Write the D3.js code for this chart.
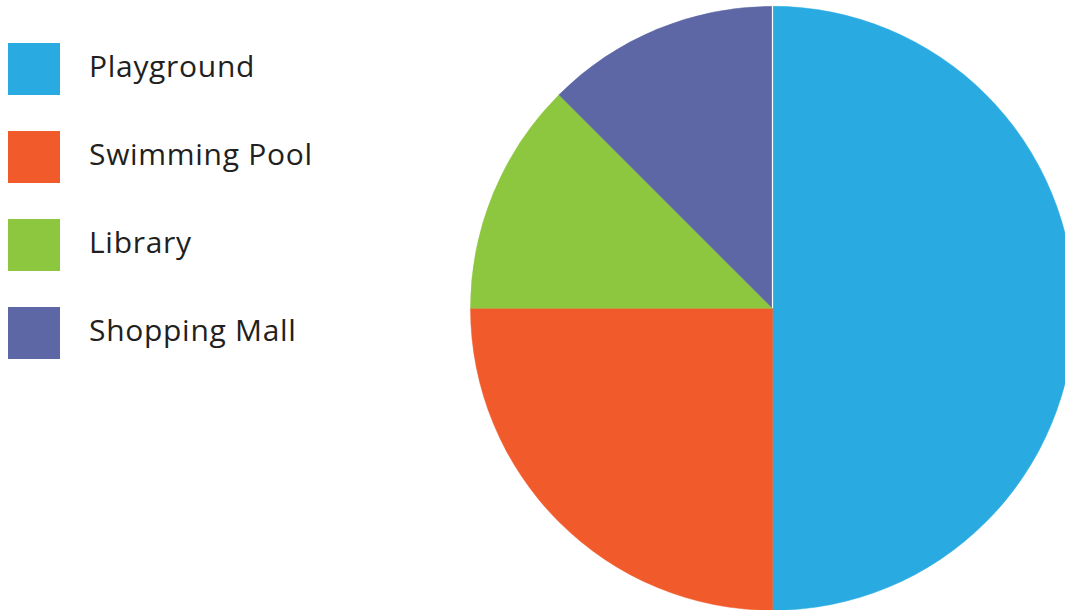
<!DOCTYPE html>
<html><head><meta charset="utf-8">
<script src="https://cdn.jsdelivr.net/npm/d3@7"></script>
<style>html,body{margin:0;padding:0;background:#fff;overflow:hidden}</style>
</head><body>
<svg id="chart" width="1065" height="610"></svg>
<script>
const categories = ["Playground", "Swimming Pool", "Library", "Shopping Mall"];
const values = [50, 25, 12.5, 12.5];
const colors = ["#29abe2", "#f15a2b", "#8dc63f", "#5e67a5"];

const svg = d3.select("#chart");
const cx = 772.5, cy = 308.3, r = 302;

const pie = d3.pie().sort(null).value(d => d.v);
const data = categories.map((c, i) => ({ c, v: values[i] }));
const arc = d3.arc().innerRadius(0).outerRadius(r);

const g = svg.append("g").attr("transform", `translate(${cx},${cy})`);
g.selectAll("path").data(pie(data)).join("path")
  .attr("d", arc)
  .attr("fill", (d, i) => colors[i])
  .attr("stroke", (d, i) => colors[i])
  .attr("stroke-width", 0.5);
// thin white seam at the top join
g.append("line").attr("x1", 0).attr("y1", 0).attr("x2", 0).attr("y2", -r - 1)
  .attr("stroke", "#fff").attr("stroke-width", 1.2);

const color = d3.scaleOrdinal().domain(categories).range(colors);
const y = d3.scalePoint().domain(categories).range([43, 307]);

const lg = svg.append("g");
lg.selectAll("rect").data(categories).join("rect")
  .attr("x", 8).attr("y", d => y(d)).attr("width", 52).attr("height", 52)
  .attr("fill", d => color(d));
lg.selectAll("text").data(categories).join("text")
  .attr("x", 89).attr("y", d => y(d) + 34)
  .attr("font-family", "Open Sans, sans-serif")
  .attr("font-size", 30)
  .attr("letter-spacing", 0.7)
  .attr("fill", "#231f20")
  .text(d => d);
</script>
</body></html>
